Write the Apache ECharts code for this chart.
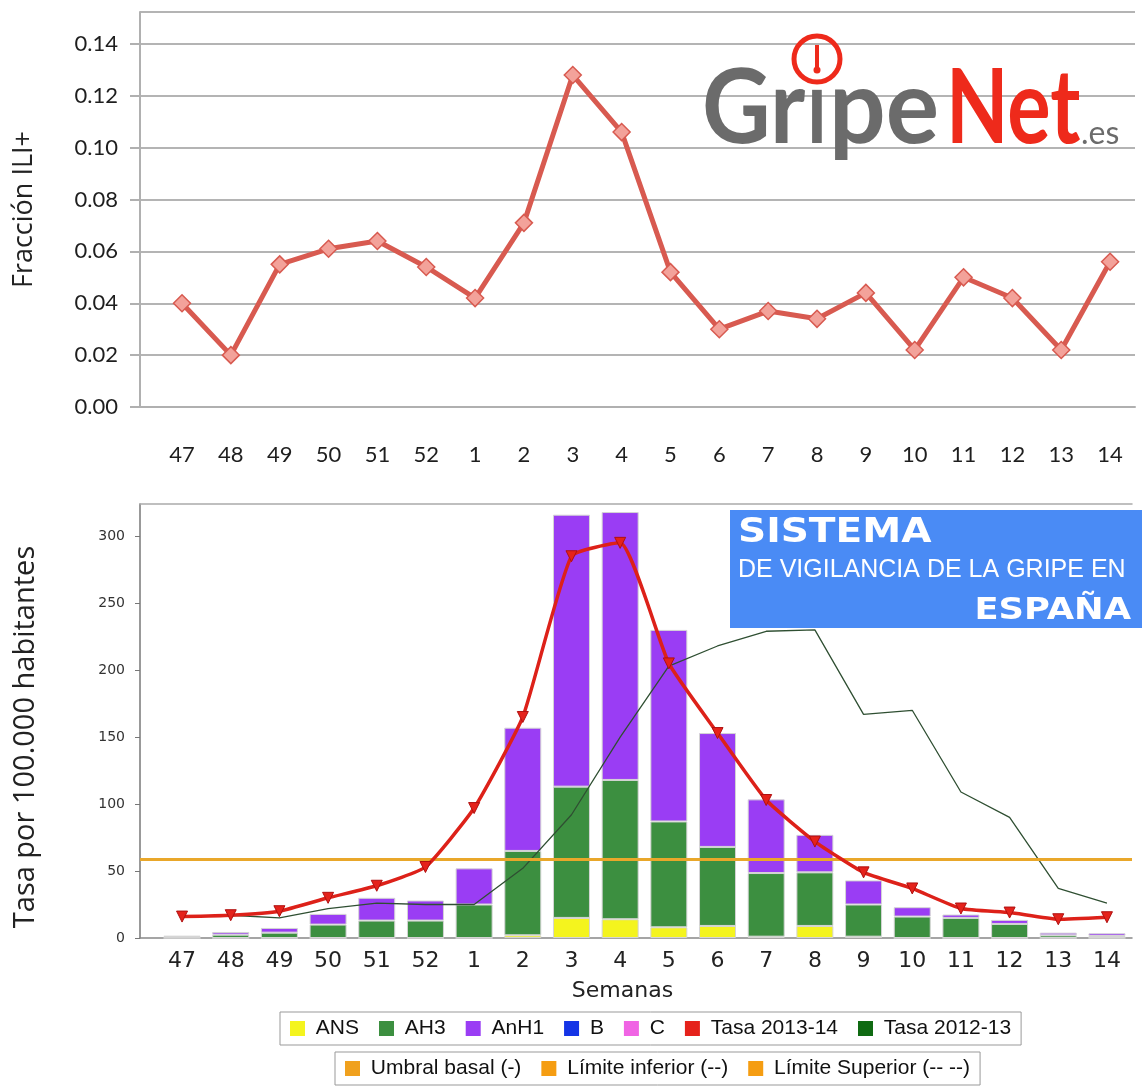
<!DOCTYPE html>
<html><head><meta charset="utf-8">
<script src="https://cdn.jsdelivr.net/npm/echarts@6/dist/echarts.min.js"></script>
<style>html,body{margin:0;padding:0;background:#fff}#c{width:1146px;height:1086px}</style>
</head><body><div id="c"></div>
<script>
// ---- data ----
const weeks = ['47','48','49','50','51','52','1','2','3','4','5','6','7','8','9','10','11','12','13','14'];
const iliFraction = [0.040,0.020,0.055,0.061,0.064,0.054,0.042,0.071,0.128,0.106,0.052,0.030,0.037,0.034,0.044,0.022,0.050,0.042,0.022,0.056];
const ans  = [0,0,0,0,0,0,0,2,15,14,8,9,1,9,1,0,0,0,0,0];
const ah3  = [1,2.5,4,10,13,13,25,63,98,104,79,59,47.5,40,24,16,15,10.5,2,1.5];
const anh1 = [0.5,2,3.5,8,17,15,27,92,203,200,143,85,55,28,18,7,2.5,3,2,2];
const typeB = [0,0,0,0,0,0,0,0,0,0,0,0,0,0,0,0,0,0,0,0];
const typeC = [0,0,0,0,0,0,0,0,0,0,0,0,0,0,0,0,0,0,0,0];
const rate1314 = [16,17,20,30,39,53,97,165,285,295,205,153,103,72,49,37,22,19,14,15.5];
const rate1213 = [16,17,15,22,26,25,25,52,92,150,203,218,229,230,167,170,109,90,37,26];
const threshold = 59;

const idx = weeks.map((_, i) => i);
const pairs = arr => arr.map((v, i) => [i, v]);
const weekLabel = v => weeks[Math.round(v)] || '';

const chart = echarts.init(document.getElementById('c'));
const barBorder = {borderColor: '#d4d4d4', borderWidth: 1};
const legendText = {fontFamily: 'Liberation Sans', fontSize: 21, color: '#111'};

const option = {
  animation: false,
  backgroundColor: '#fff',
  grid: [
    {left: 140, top: 12, width: 995, height: 395},
    {left: 157.7, top: 504, width: 973.6, height: 434},
    {left: 140, top: 504, width: 992, height: 434}
  ],
  xAxis: [
    {type: 'value', gridIndex: 0, min: -0.86, max: 19.51,
     axisLine: {show: true, onZero: false, lineStyle: {color: '#b0b0b0', width: 2}},
     axisTick: {show: false}, splitLine: {show: false},
     axisLabel: {customValues: idx, formatter: weekLabel, fontFamily: 'Lato', fontSize: 22, color: '#1e1e1e', margin: 37}},
    {type: 'category', gridIndex: 1, data: weeks, boundaryGap: true,
     axisLine: {show: false}, axisTick: {show: false}, splitLine: {show: false},
     name: 'Semanas', nameLocation: 'middle', nameGap: 42,
     nameTextStyle: {fontFamily: 'DejaVu Sans', fontSize: 22, color: '#222', padding: [0, 44, 0, 0]},
     axisLabel: {fontFamily: 'DejaVu Sans', fontSize: 22, color: '#222', margin: 12, interval: 0}},
    {type: 'value', gridIndex: 2, position: 'bottom', min: 0, max: 1,
     axisLine: {show: true, onZero: false, lineStyle: {color: '#888', width: 1.5}},
     axisTick: {show: false}, axisLabel: {show: false}, splitLine: {show: false}},
    {type: 'value', gridIndex: 2, position: 'top', min: 0, max: 1,
     axisLine: {show: true, onZero: false, lineStyle: {color: '#aaa', width: 1.5}},
     axisTick: {show: false}, axisLabel: {show: false}, splitLine: {show: false}}
  ],
  yAxis: [
    {type: 'value', gridIndex: 0, min: 0, max: 0.1523, interval: 0.02,
     name: 'Fracción ILI+', nameLocation: 'middle', nameGap: 102, nameRotate: 90,
     nameTextStyle: {fontFamily: 'Open Sans', fontSize: 27, color: '#222'},
     axisLine: {show: true, onZero: false, lineStyle: {color: '#b0b0b0', width: 2}},
     axisTick: {show: true, length: 10, lineStyle: {color: '#b0b0b0', width: 2}},
     splitLine: {show: true, lineStyle: {color: '#b4b4b4', width: 2}},
     axisLabel: {showMaxLabel: false, formatter: v => v.toFixed(2), fontFamily: 'Lato', fontSize: 22, color: '#1e1e1e', margin: 22}},
    {type: 'value', gridIndex: 1, min: 0, max: 324, interval: 50, offset: 17.7,
     name: 'Tasa por 100.000 habitantes', nameLocation: 'middle', nameGap: 100, nameRotate: 90,
     nameTextStyle: {fontFamily: 'Open Sans', fontSize: 29, color: '#222', padding: [0, 32, 0, 0]},
     axisLine: {show: true, onZero: false, lineStyle: {color: '#777', width: 1.5}},
     axisTick: {show: true, length: 5, lineStyle: {color: '#777'}},
     splitLine: {show: false},
     axisLabel: {showMaxLabel: false, fontFamily: 'DejaVu Sans', fontSize: 14, color: '#333', margin: 15}},
    {type: 'value', gridIndex: 2, min: 0, max: 324, show: false}
  ],
  legend: [
    {left: 280, top: 1012, orient: 'horizontal', icon: 'rect', itemWidth: 15, itemHeight: 15, itemGap: 20,
     padding: [6, 10], borderColor: '#999', borderWidth: 1, backgroundColor: '#fff',
     itemStyle: {borderWidth: 0}, formatter: ' {name}', textStyle: legendText,
     data: ['ANS','AH3','AnH1','B','C','Tasa 2013-14','Tasa 2012-13']},
    {left: 335, top: 1052, orient: 'horizontal', icon: 'rect', itemWidth: 15, itemHeight: 15, itemGap: 20,
     padding: [6, 10], borderColor: '#999', borderWidth: 1, backgroundColor: '#fff',
     itemStyle: {borderWidth: 0}, formatter: ' {name}', textStyle: legendText,
     data: ['Umbral basal (-)','Límite inferior (--)','Límite Superior (-- --)']}
  ],
  series: [
    {name: 'Fracción ILI+', type: 'line', xAxisIndex: 0, yAxisIndex: 0, data: pairs(iliFraction),
     lineStyle: {color: '#D85A50', width: 5}, symbol: 'diamond', symbolSize: 17,
     itemStyle: {color: '#F3A29A', borderColor: '#D85A50', borderWidth: 1.5}, z: 3},
    {name: 'ANS', type: 'bar', stack: 'v', xAxisIndex: 1, yAxisIndex: 1, barWidth: 37, data: ans, itemStyle: Object.assign({color: '#F4F41E'}, barBorder)},
    {name: 'AH3', type: 'bar', stack: 'v', xAxisIndex: 1, yAxisIndex: 1, barWidth: 37, data: ah3, itemStyle: Object.assign({color: '#3C8F40'}, barBorder)},
    {name: 'AnH1', type: 'bar', stack: 'v', xAxisIndex: 1, yAxisIndex: 1, barWidth: 37, data: anh1, itemStyle: Object.assign({color: '#9A3DF4'}, barBorder)},
    {name: 'B', type: 'bar', stack: 'v', xAxisIndex: 1, yAxisIndex: 1, barWidth: 37, data: typeB, itemStyle: {color: '#1434E6', borderWidth: 0}},
    {name: 'C', type: 'bar', stack: 'v', xAxisIndex: 1, yAxisIndex: 1, barWidth: 37, data: typeC, itemStyle: {color: '#F064E4', borderWidth: 0}},
    {name: 'Tasa 2012-13', type: 'line', xAxisIndex: 1, yAxisIndex: 1, data: rate1213,
     color: '#0F6A12', lineStyle: {color: '#2F4F32', width: 1.3}, symbol: 'none', z: 4},
    {name: 'Umbral basal (-)', type: 'line', xAxisIndex: 2, yAxisIndex: 2, data: [], color: '#F0A11E',
     markLine: {silent: true, symbol: 'none', label: {show: false},
       lineStyle: {color: '#E9A72A', width: 3, type: 'solid'}, data: [{yAxis: threshold}]}, z: 3},
    {name: 'Límite inferior (--)', type: 'line', xAxisIndex: 2, yAxisIndex: 2, data: [], color: '#F59D12'},
    {name: 'Límite Superior (-- --)', type: 'line', xAxisIndex: 2, yAxisIndex: 2, data: [], color: '#F59D12'},
    {name: 'Tasa 2013-14', type: 'line', xAxisIndex: 1, yAxisIndex: 1, data: rate1314, smooth: 0.15,
     color: '#E5221B', lineStyle: {color: '#DD2119', width: 3.5}, symbol: 'triangle', symbolRotate: 180, symbolSize: 11,
     itemStyle: {color: '#E5221B', borderColor: '#B01010', borderWidth: 1}, z: 5}
  ],
  graphic: [
    // GripeNet logo
    {type: 'text', x: 702, y: 109, scaleX: 0.91, z: 10, style: {text: 'Gr', font: 'bold 104px Lato', fill: '#6B6B6B', verticalAlign: 'middle', textAlign: 'left'}},
    {type: 'text', x: 817, y: 109, scaleX: 0.75, z: 10, style: {text: 'ı', font: 'bold 104px Lato', fill: '#6B6B6B', verticalAlign: 'middle', textAlign: 'center'}},
    {type: 'text', x: 829, y: 109, scaleX: 0.96, z: 10, style: {text: 'pe', font: 'bold 104px Lato', fill: '#6B6B6B', verticalAlign: 'middle', textAlign: 'left'}},
    {type: 'text', x: 946, y: 109, scaleX: 0.78, z: 10, style: {text: 'Net', font: 'bold 104px Lato', fill: '#EE2A1B', verticalAlign: 'middle', textAlign: 'left'}},
    {type: 'text', x: 1081, y: 134, z: 10, style: {text: '.es', font: '32px Lato', fill: '#6B6B6B', verticalAlign: 'middle', textAlign: 'left'}},
    {type: 'circle', z: 10, shape: {cx: 817, cy: 59, r: 23}, style: {fill: 'none', stroke: '#EE2A1B', lineWidth: 5}},
    {type: 'line', z: 10, shape: {x1: 817, y1: 45, x2: 817, y2: 68}, style: {stroke: '#EE2A1B', lineWidth: 4}},
    {type: 'circle', z: 10, shape: {cx: 817, cy: 70, r: 3.5}, style: {fill: '#EE2A1B'}},
    // SISTEMA box
    {type: 'rect', z: 10, shape: {x: 730, y: 510, width: 412, height: 118}, style: {fill: '#4A8BF5'}},
    {type: 'text', x: 738, y: 533, scaleX: 1.15, z: 11, style: {text: 'SISTEMA', font: 'bold 34px "DejaVu Sans"', fill: '#fff', verticalAlign: 'middle', textAlign: 'left'}},
    {type: 'text', x: 738, y: 570, z: 11, style: {text: 'DE VIGILANCIA DE LA GRIPE EN', font: '25px "Liberation Sans"', fill: '#fff', verticalAlign: 'middle', textAlign: 'left'}},
    {type: 'text', x: 1131, y: 611, scaleX: 1.14, z: 11, style: {text: 'ESPAÑA', font: 'bold 31px "DejaVu Sans"', fill: '#fff', verticalAlign: 'middle', textAlign: 'right'}}
  ]
};
chart.setOption(option);
</script>
</body></html>
